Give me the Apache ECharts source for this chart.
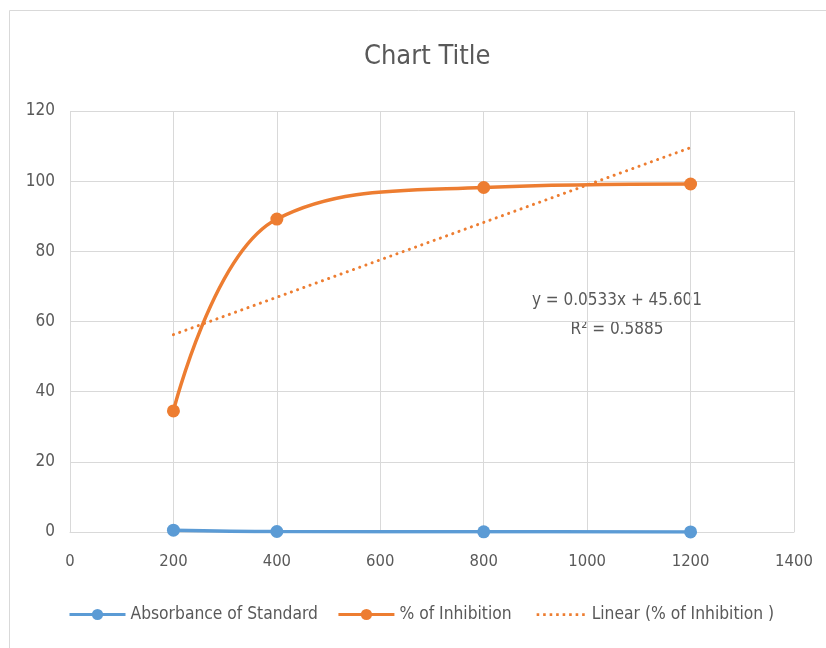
<!DOCTYPE html>
<html><head><meta charset="utf-8">
<script src="https://cdn.jsdelivr.net/npm/echarts@6/dist/echarts.min.js"></script>
<style>html,body{margin:0;padding:0;background:#fff}#c{width:826px;height:648px}</style>
</head><body><div id="c"></div>
<script>
var concentrations = [200, 400, 800, 1200];
var absorbance = [0.52, 0.15, 0.05, 0.03];
var inhibition = [34.5, 89.2, 98.2, 99.2];
var trendX = [200, 1200];
var trendY = [56.26, 109.56];
var equationText = 'y = 0.0533x + 45.601';
var r2Text = 'R\u00b2 = 0.5885';
var FONT = '"DejaVu Sans Condensed", "Liberation Sans Narrow", sans-serif';
var GREY = '#595959';
function pairs(xs, ys){ return xs.map(function(x,i){return [x, ys[i]];}); }
var dotIcon = 'path://M0,0L0.01,0L0,0.01Z M56,14L55.99,14L56,13.99Z' +
  ' M6,5.8h2.6v2.6h-2.6Z M12.5,5.8h2.6v2.6h-2.6Z M19,5.8h2.6v2.6h-2.6Z M25.5,5.8h2.6v2.6h-2.6Z' +
  ' M32,5.8h2.6v2.6h-2.6Z M38.5,5.8h2.6v2.6h-2.6Z M45,5.8h2.6v2.6h-2.6Z M51.5,5.8h2.6v2.6h-2.6Z';
var chart = echarts.init(document.getElementById('c'));
chart.setOption({
  animation:false,
  title:{text:'Chart Title', left:359, top:38, textStyle:{fontFamily:FONT, fontSize:27, fontWeight:'normal', color:GREY}},
  grid:{left:70, right:32, top:111, bottom:116},
  xAxis:{type:'value', min:0, max:1400, interval:200,
    axisLine:{show:true, lineStyle:{color:'#d9d9d9'}}, axisTick:{show:false},
    splitLine:{show:true, lineStyle:{color:'#d9d9d9'}},
    axisLabel:{fontFamily:FONT, fontSize:16.5, color:GREY, margin:21, formatter:function(v){return String(v);}}},
  yAxis:{type:'value', min:0, max:120, interval:20,
    axisLine:{show:false}, axisTick:{show:false},
    splitLine:{show:true, lineStyle:{color:'#d9d9d9'}},
    axisLabel:{fontFamily:FONT, fontSize:17, color:GREY, margin:15}},
  legend:{bottom:20, left:63, itemWidth:56, itemHeight:14, itemGap:19,
    lineStyle:{width:3},
    textStyle:{fontFamily:FONT, fontSize:17.3, color:GREY},
    data:['Absorbance of Standard', '% of Inhibition', {name:'Linear (% of Inhibition )', icon:dotIcon}]},
  series:[
    {name:'Absorbance of Standard', type:'line', smooth:0.4, data:pairs(concentrations, absorbance),
      symbol:'circle', symbolSize:13, itemStyle:{color:'#5b9bd5'}, lineStyle:{color:'#5b9bd5', width:3.5}},
    {name:'% of Inhibition', type:'line', smooth:0.4, data:pairs(concentrations, inhibition),
      symbol:'circle', symbolSize:13, itemStyle:{color:'#ed7d31'}, lineStyle:{color:'#ed7d31', width:3.5}},
    {name:'Linear (% of Inhibition )', type:'line', data:pairs(trendX, trendY), symbol:'none', showSymbol:false,
      itemStyle:{color:'#ed7d31'}, lineStyle:{color:'#ed7d31', width:3, type:[0.1,6.5], cap:'round'}}
  ],
  graphic:[
    {type:'rect', shape:{x:9.5, y:10.5, width:830, height:650}, style:{fill:'none', stroke:'#d9d9d9', lineWidth:1}, silent:true},
    {type:'text', x:617, y:292, style:{text:equationText, align:'center', fontFamily:FONT, fontSize:17, fill:GREY}},
    {type:'text', x:617, y:321, style:{text:r2Text, align:'center', fontFamily:FONT, fontSize:17, fill:GREY}}
  ]
});
</script></body></html>
